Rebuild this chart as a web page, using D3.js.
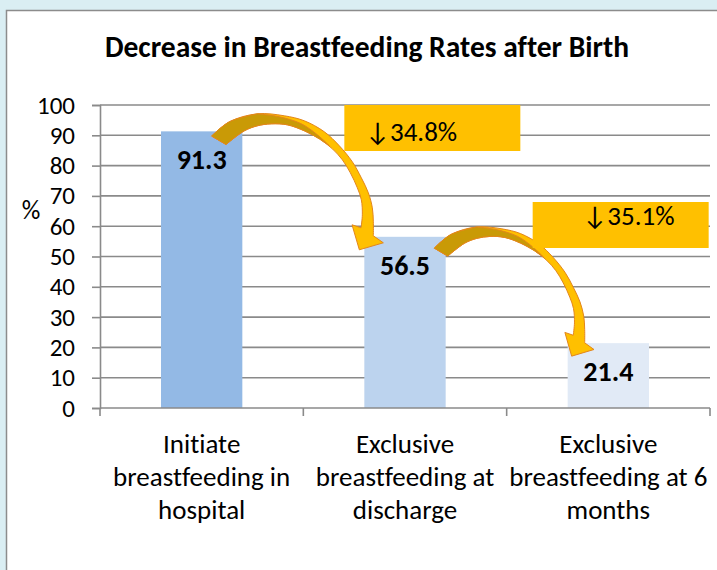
<!DOCTYPE html>
<html>
<head>
<meta charset="utf-8">
<script src="https://cdn.jsdelivr.net/npm/d3@7"></script>
<style>
  body { margin: 0; background: #DAEEF3; }
  svg { display: block; }
  text { font-family: Carlito, Calibri, Lato, sans-serif; fill: #000; font-variant-ligatures: none; }
</style>
</head>
<body>
<div class="chart"></div>
<script>
// chart values
var categories = [
  ["Initiate", "breastfeeding in", "hospital"],
  ["Exclusive", "breastfeeding at", "discharge"],
  ["Exclusive", "breastfeeding at 6", "months"]
];
var rates = [91.3, 56.5, 21.4];
var barColors = ["#93B9E5", "#BCD3EE", "#E1EAF6"];
var yTicks = [0, 10, 20, 30, 40, 50, 60, 70, 80, 90, 100];

var svgWidth = 717;
var svgHeight = 570;

var margin = { top: 105, right: 7, bottom: 162, left: 100 };
var width = svgWidth - margin.left - margin.right;
var height = svgHeight - margin.top - margin.bottom;

var svg = d3.select(".chart")
  .append("svg")
  .attr("width", svgWidth)
  .attr("height", svgHeight);

// white chart area with grey frame
svg.append("rect")
  .attr("x", 6.5)
  .attr("y", 10.5)
  .attr("width", svgWidth + 20)
  .attr("height", svgHeight + 20)
  .attr("fill", "#fff")
  .attr("stroke", "#8C8C8C")
  .attr("stroke-width", 1.5);

svg.append("text")
  .attr("x", 367)
  .attr("y", 57)
  .attr("text-anchor", "middle")
  .attr("font-size", "29.5px")
  .attr("font-weight", "bold")
  .text("Decrease in Breastfeeding Rates after Birth");

var chartGroup = svg.append("g")
  .attr("transform", `translate(${margin.left}, ${margin.top})`);

var keys = categories.map(d => d.join(" "));

var xBandScale = d3.scaleBand()
  .domain(keys)
  .range([0, width])
  .paddingInner(0.6)
  .paddingOuter(0.3);

var yLinearScale = d3.scaleLinear()
  .domain([0, 100])
  .range([height, 0]);

// gridlines
chartGroup.append("g")
  .selectAll("line")
  .data(yTicks.filter(d => d > 0))
  .enter()
  .append("line")
  .attr("x1", 0)
  .attr("x2", width)
  .attr("y1", d => yLinearScale(d))
  .attr("y2", d => yLinearScale(d))
  .attr("stroke", "#8A8A8A")
  .attr("stroke-width", 1.6);

// y axis
var leftAxis = d3.axisLeft(yLinearScale)
  .tickValues(yTicks)
  .tickSize(8)
  .tickPadding(17);

var yAxis = chartGroup.append("g").call(leftAxis);
yAxis.select(".domain").attr("stroke", "#8A8A8A").attr("stroke-width", 1.6);
yAxis.selectAll(".tick line").attr("stroke", "#8A8A8A").attr("stroke-width", 1.6);
yAxis.selectAll(".tick text")
  .attr("font-size", "25px")
  .attr("font-family", "Carlito, Calibri, Lato, sans-serif")
  .attr("fill", "#000");

svg.append("text")
  .attr("x", 31)
  .attr("y", 219)
  .attr("text-anchor", "middle")
  .attr("font-size", "26px")
  .text("%");

// bars
chartGroup.selectAll("rect.bar")
  .data(rates)
  .enter()
  .append("rect")
  .attr("class", "bar")
  .attr("x", (d, i) => xBandScale(keys[i]))
  .attr("y", d => yLinearScale(d))
  .attr("width", xBandScale.bandwidth())
  .attr("height", d => height - yLinearScale(d))
  .attr("fill", (d, i) => barColors[i]);

// x axis line and category boundary ticks
var step = xBandScale.step();
var edges = [0].concat(keys.map(k => xBandScale(k) + xBandScale.bandwidth() + step * 0.3));
chartGroup.append("line")
  .attr("x1", 0).attr("x2", width)
  .attr("y1", height).attr("y2", height)
  .attr("stroke", "#8A8A8A").attr("stroke-width", 1.6);
chartGroup.selectAll("line.xtick")
  .data(edges)
  .enter()
  .append("line")
  .attr("class", "xtick")
  .attr("x1", d => d).attr("x2", d => d)
  .attr("y1", height).attr("y2", height + 8)
  .attr("stroke", "#8A8A8A").attr("stroke-width", 1.6);

// category labels
var xLabels = chartGroup.selectAll("text.xlab")
  .data(categories)
  .enter()
  .append("text")
  .attr("class", "xlab")
  .attr("text-anchor", "middle")
  .attr("font-size", "27px")
  .attr("x", (d, i) => xBandScale(keys[i]) + xBandScale.bandwidth() / 2)
  .attr("y", height + 45);
xLabels.selectAll("tspan")
  .data(d => d)
  .enter()
  .append("tspan")
  .attr("x", function() { return d3.select(this.parentNode).attr("x"); })
  .attr("dy", (d, i) => i === 0 ? 0 : 33)
  .text(d => d);

// value labels
chartGroup.selectAll("text.value")
  .data(rates)
  .enter()
  .append("text")
  .attr("class", "value")
  .attr("text-anchor", "middle")
  .attr("font-size", "28px")
  .attr("font-weight", "bold")
  .attr("x", (d, i) => xBandScale(keys[i]) + xBandScale.bandwidth() / 2)
  .attr("y", d => yLinearScale(d) + 38)
  .text(d => d.toFixed(1));

// curved arrow shape, local coords with the tip at 0,0
var outerEdge = [[-147.7, -113.7], [-130, -128], [-102, -136], [-75, -134], [-55, -129],
  [-35, -118], [-20, -104], [-7, -88], [2, -72], [9, -57], [13, -42], [14, -28], [14, -14]];
var arrowHead = [[24, -7], [0, 0], [-7.3, -25], [1.7, -22]];
var innerEdge = [[1.7, -22], [3, -35], [2, -50], [-2, -62], [-9, -77], [-17, -90], [-27, -101],
  [-40, -111], [-55, -119], [-72, -125], [-88, -126], [-102, -124], [-115, -119], [-133.3, -105.3]];
var backEdge = [[-102, -136], [-80, -133], [-58, -126], [-42, -115], [-30, -104]];

var smooth = d3.line().curve(d3.curveCatmullRom);
function seg(pts, first) {
  var p = smooth(pts);
  return first ? p : "L" + p.slice(1);
}

// how each drop arrow and its box sit next to the bars
var dropLayout = [
  { dx: -5, dy: 13, kx: 1, ky: 1, bx: -20, by: 105, bw: 176, bh: 46, tx: 67, ty: 36 },
  { dx: 4, dy: 13, kx: 0.93, ky: 0.95, bx: -35, by: 202, bw: 176, bh: 46, tx: 96, ty: 23 }
];

rates.slice(0, -1).forEach(function(v, i) {
  var lay = dropLayout[i];
  var next = keys[i + 1];
  var tipX = margin.left + xBandScale(next) + lay.dx;
  var tipY = margin.top + yLinearScale(rates[i + 1]) + lay.dy;
  var sc = p => [p[0] * lay.kx, p[1] * lay.ky];

  var g = svg.append("g").attr("transform", `translate(${tipX}, ${tipY})`);

  var body = seg(outerEdge.map(sc), true) +
    arrowHead.map(p => "L" + sc(p).join(",")).join("") +
    seg(innerEdge.map(sc), false) + "Z";
  g.append("path")
    .attr("d", body)
    .attr("fill", "#FFC000")
    .attr("stroke", "#E3861C")
    .attr("stroke-width", 1);

  var iStart = 7;
  var back = seg(outerEdge.slice(0, 3).map(sc), true) +
    seg(backEdge.map(sc), false) +
    seg(innerEdge.slice(iStart).map(sc), false) + "Z";
  g.append("path")
    .attr("d", back)
    .attr("fill", "#C99A06")
    .attr("stroke", "#E3861C")
    .attr("stroke-width", 1);

  // percent drop box
  var boxX = margin.left + xBandScale(next) + lay.bx;
  svg.append("rect")
    .attr("x", boxX)
    .attr("y", lay.by)
    .attr("width", lay.bw)
    .attr("height", lay.bh)
    .attr("fill", "#FFC000");
  svg.append("text")
    .attr("x", boxX + lay.tx)
    .attr("y", lay.by + lay.ty)
    .attr("text-anchor", "middle")
    .attr("font-size", "27px")
    .text("\u2193" + (rates[i] - rates[i + 1]).toFixed(1) + "%");
});
</script>
</body>
</html>
